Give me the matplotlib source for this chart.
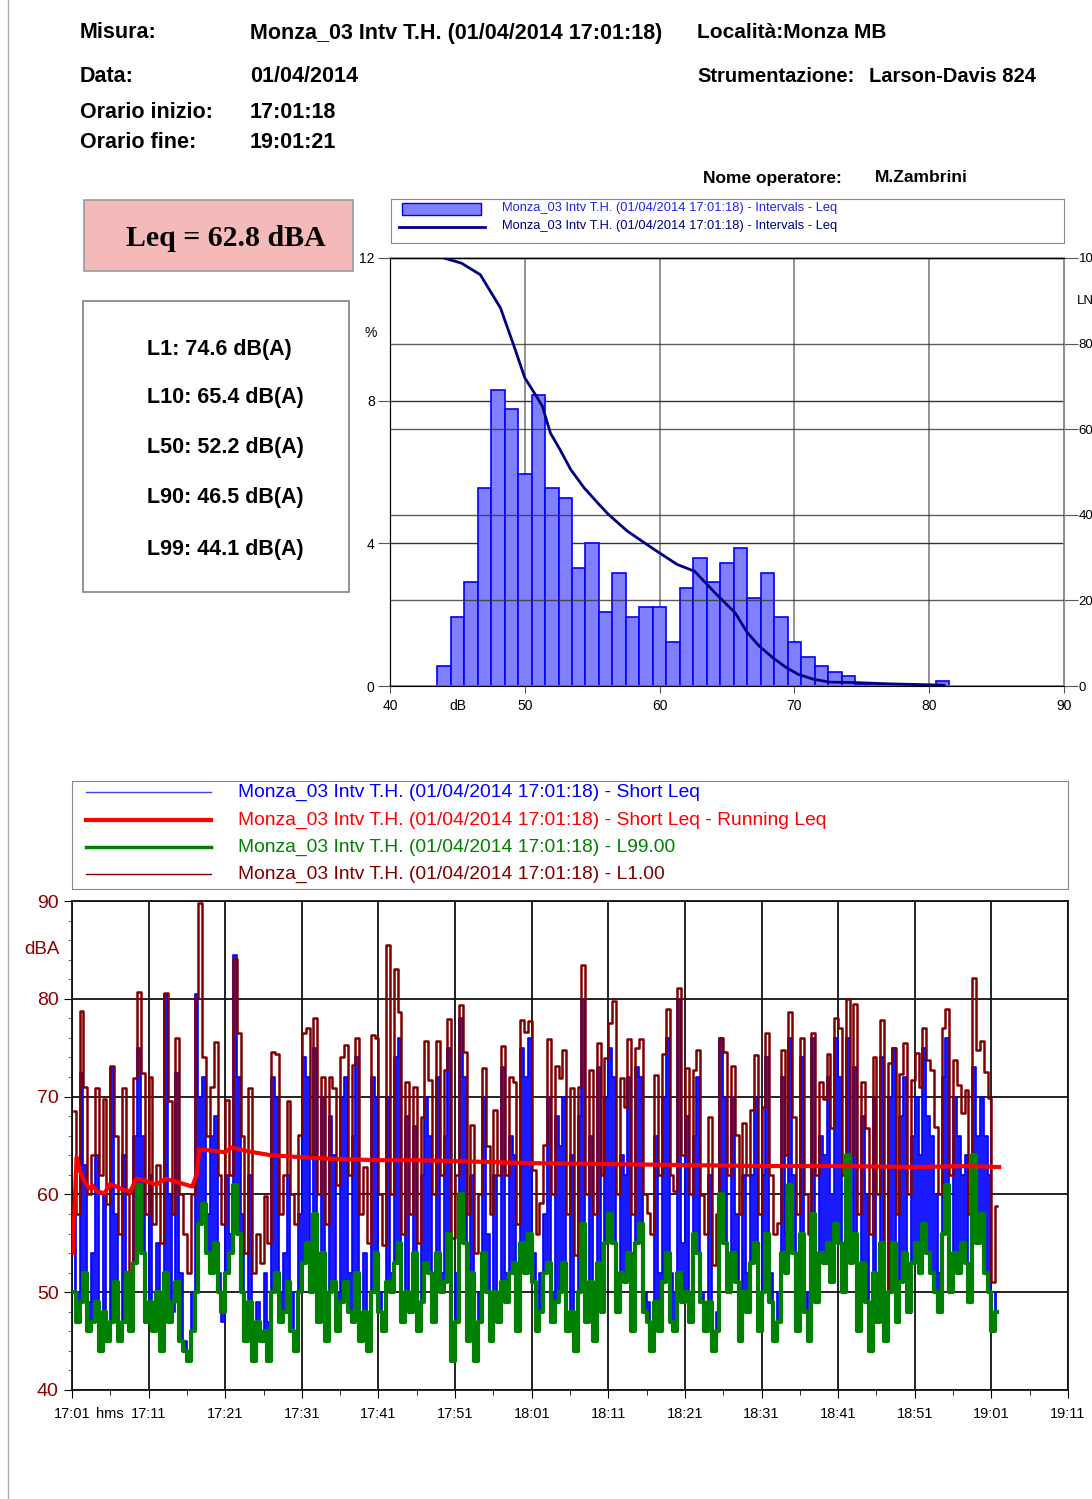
import numpy as np
import matplotlib
matplotlib.use('Agg')
import matplotlib.pyplot as plt
from matplotlib.patches import Rectangle
from matplotlib.lines import Line2D

plt.rcParams['font.family'] = ['Liberation Sans', 'DejaVu Sans']

# ---------------- report header ----------------
measure_name = 'Monza_03 Intv T.H. (01/04/2014 17:01:18)'
header_left = [('Misura:', measure_name), ('Data:', '01/04/2014'),
               ('Orario inizio:', '17:01:18'), ('Orario fine:', '19:01:21')]
leq_total = 'Leq = 62.8 dBA'
stat_lines = ['L1: 74.6 dB(A)', 'L10: 65.4 dB(A)', 'L50: 52.2 dB(A)',
              'L90: 46.5 dB(A)', 'L99: 44.1 dB(A)']

# ---------------- level distribution ----------------
hist_db = list(range(44, 82))
hist_pct = [0.56, 1.93, 2.91, 5.54, 8.30, 7.77, 5.95, 8.16, 5.54, 5.27,
            3.31, 4.01, 2.07, 3.17, 1.93, 2.21, 2.21, 1.24, 2.76, 3.59,
            2.91, 3.45, 3.87, 2.47, 3.17, 1.93, 1.24, 0.82, 0.55, 0.40,
            0.27, 0.07, 0.03, 0.0, 0.0, 0.0, 0.0, 0.13]
ln_db = [44.0, 45.3, 46.7, 48.2, 49.2, 50.0, 50.7, 51.3, 51.9, 52.6, 53.4,
         54.4, 55.4, 56.2, 57.6, 59.6, 61.3, 62.6, 64.1, 65.6, 66.5, 67.4,
         68.4, 69.4, 70.3, 71.4, 72.6, 74.5, 77.1, 81.1]
ln_pct = [100.0, 98.8, 96.1, 88.3, 79.4, 72.0, 68.5, 65.4, 59.1, 55.3, 50.6,
          46.3, 42.8, 40.1, 36.2, 31.9, 28.4, 26.8, 21.8, 17.1, 12.5, 9.3,
          6.6, 4.3, 2.7, 1.6, 0.9, 0.8, 0.5, 0.2]

# ---------------- time history (30 s samples from 17:01) ----------------
l1_vals = [
    68.5, 58, 78.8, 71.0, 60, 64, 70.9, 62, 69.8, 59,
    73.1, 66, 56, 70.9, 60, 52, 71.9, 80.7, 72.4, 58,
    72.0, 57, 63, 55, 80.6, 69.5, 58, 76.0, 60, 56.0,
    52, 60, 80.2, 89.8, 74.1, 66, 71.0, 75.6, 62, 57,
    69.7, 62, 84.1, 76.5, 66, 54, 70.9, 52, 56, 53,
    59.8, 55, 74.6, 74.4, 58, 62, 69.6, 60, 57, 66.1,
    76.5, 77.0, 64, 78.0, 60, 72.0, 57, 72.0, 70.9, 61,
    74.0, 75.3, 62, 73.2, 76.0, 58, 62.8, 55, 76.3, 76.0,
    60, 54.8, 85.5, 60, 83.0, 78.7, 56, 71.5, 58, 71.0,
    55, 67.9, 75.7, 71.7, 60, 75.7, 62, 72.7, 77.9, 55.5,
    62.0, 79.4, 74.6, 58, 67.1, 54, 60, 72.9, 65, 58,
    68.6, 62, 75.2, 62.0, 72.0, 71.5, 57, 77.8, 76.6, 77.7,
    62.5, 56, 59.1, 65.1, 75.9, 60, 73.1, 71.9, 74.8, 58,
    70.9, 53.8, 71.0, 83.5, 60, 72.7, 58, 75.5, 62, 73.9,
    77.5, 79.8, 60, 71.9, 68.9, 75.9, 58, 75.0, 75.9, 60,
    58.1, 56, 72.2, 62, 74.4, 79.0, 62, 60.3, 81.1, 64,
    72.9, 60, 72.7, 74.8, 59.9, 56, 67.9, 52.8, 58, 76.0,
    74.6, 62, 73.1, 66.1, 58, 67.3, 62, 68.6, 74.3, 58,
    68.9, 76.5, 62, 56, 57.1, 74.8, 64, 78.7, 67.9, 58,
    76.0, 60, 56, 76.5, 62, 71.5, 69.8, 74.4, 66.8, 78.0,
    77.0, 62, 80.0, 64, 79.5, 58, 71.5, 66.8, 56, 74.0,
    60, 77.8, 47.7, 73.4, 75.0, 58, 72.3, 75.5, 60, 71.7,
    74.5, 71.0, 77.0, 73.7, 72.7, 66.9, 60, 77.0, 79.0, 62,
    73.7, 71.2, 68.3, 70.7, 58, 82.1, 74.8, 75.7, 72.5, 69.9,
    51.0, 58.8]
short_leq = [
    60, 50, 72.4, 63, 49, 54, 64, 44, 60, 47,
    73, 58, 47, 64, 52, 46, 66, 75, 66, 49,
    62, 47, 55, 45, 80.5, 60, 48, 72.4, 52, 45,
    44, 50, 80.5, 70, 72, 58, 66, 68, 52, 47,
    62, 56, 84.5, 72, 58, 47, 62, 45, 49, 46,
    52, 47, 72, 70, 50, 54, 62, 50, 46, 58,
    74, 72, 55, 75, 48, 70, 46, 68, 64, 50,
    70, 72, 52, 66, 74, 46, 54, 45, 72, 70,
    50, 47, 70, 52, 74, 76, 48, 68, 50, 67,
    47, 62, 70, 66, 49, 72, 52, 66, 75, 46,
    52, 78, 72, 47, 62, 45, 50, 70, 56, 46,
    62, 50, 73, 52, 66, 64, 46, 75, 72, 76,
    54, 47, 52, 58, 70, 50, 68, 65, 70, 48,
    64, 45, 68, 80, 50, 66, 47, 73, 52, 70,
    75, 72, 50, 64, 62, 72, 47, 73, 72, 50,
    49, 45, 66, 52, 70, 76, 52, 50, 80, 55,
    68, 50, 66, 72, 50, 46, 62, 44, 48, 76,
    70, 52, 70, 58, 47, 62, 52, 62, 70, 48,
    62, 74, 52, 46, 50, 72, 56, 76, 62, 47,
    74, 50, 46, 76, 52, 66, 64, 72, 60, 76,
    72, 54, 76, 54, 73, 48, 68, 60, 46, 70,
    50, 74, 46, 70, 75, 50, 68, 72, 50, 66,
    70, 64, 75, 68, 66, 60, 52, 72, 76, 54,
    70, 66, 62, 64, 50, 73, 66, 70, 66, 62,
    48, 50]
l99_vals = [
    50, 47, 49, 52, 46, 47, 49, 44, 48, 45,
    47, 51, 45, 47, 52, 46, 53, 61, 54, 47,
    49, 46, 50, 44, 52, 47, 49, 51, 45, 44,
    43, 46, 50, 57, 59, 54, 52, 55, 50, 48,
    52, 54, 61, 56, 50, 45, 49, 43, 47, 45,
    46, 43, 50, 52, 47, 48, 51, 46, 44, 50,
    53, 55, 50, 58, 47, 54, 45, 50, 51, 46,
    49, 51, 48, 47, 52, 45, 48, 44, 50, 54,
    48, 46, 51, 50, 53, 55, 47, 50, 48, 54,
    46, 49, 53, 52, 47, 54, 50, 51, 56, 43,
    47, 60, 55, 45, 52, 43, 47, 54, 50, 45,
    50, 47, 51, 49, 52, 53, 46, 55, 52, 56,
    51, 46, 48, 52, 53, 47, 49, 50, 53, 46,
    48, 44, 50, 57, 47, 51, 45, 53, 48, 55,
    58, 55, 48, 52, 51, 54, 46, 55, 57, 48,
    47, 44, 49, 46, 51, 54, 47, 46, 52, 49,
    50, 47, 56, 54, 49, 46, 49, 44, 46, 60,
    55, 50, 54, 51, 45, 50, 48, 53, 55, 46,
    50, 56, 49, 45, 47, 54, 52, 61, 54, 46,
    56, 48, 45, 58, 49, 54, 53, 55, 51, 57,
    55, 50, 64, 53, 56, 46, 53, 49, 44, 52,
    47, 55, 45, 50, 55, 47, 51, 54, 48, 53,
    55, 52, 57, 54, 52, 50, 48, 56, 61, 50,
    54, 52, 55, 53, 49, 64, 55, 58, 52, 50,
    46, 48]
# running Leq read at irregular times (minutes after 17:01)
run_t = [0.1, 0.3, 0.6, 1.0, 1.5, 2.2, 2.7, 3.3, 4.3, 4.8, 5.5, 6.6, 7.6,
         8.4, 9.5, 11.0, 12.2, 14.0, 15.7, 16.3, 16.6, 18.0, 20.0, 20.8,
         23.0, 26.0, 30.0, 35.0, 40.0, 45.0, 50.0, 55.0, 60.0, 70.0, 80.0,
         90.0, 100.0, 110.0, 117.0, 121.0]
run_leq = [54.0, 58.0, 63.8, 62.5, 61.5, 60.6, 60.9, 60.3, 60.1, 61.0, 60.9,
           60.5, 60.3, 61.6, 61.4, 61.0, 61.6, 61.2, 60.8, 62.1, 64.6, 64.5,
           64.3, 64.8, 64.4, 64.0, 63.8, 63.6, 63.5, 63.5, 63.4, 63.3, 63.2,
           63.1, 63.0, 62.9, 62.9, 62.8, 62.9, 62.8]
time_labels = ['17:01', '17:11', '17:21', '17:31', '17:41', '17:51', '18:01',
               '18:11', '18:21', '18:31', '18:41', '18:51', '19:01', '19:11']

W, H = 1092, 1499


def fx(x):
    return x / W


def fy(y):
    return 1 - y / H


def page_text(fig, x, y, s, **kw):
    fig.text(fx(x), fy(y), s, va='center', **kw)


def draw_header(fig):
    rows_y = [33, 77, 112, 143]
    for (lab, val), y in zip(header_left, rows_y):
        page_text(fig, 80, y, lab, fontsize=15.5, fontweight='bold')
        page_text(fig, 250, y, val, fontsize=15.5, fontweight='bold')
    page_text(fig, 697, 33, 'Località:Monza MB', fontsize=15, fontweight='bold')
    page_text(fig, 697, 77, 'Strumentazione:', fontsize=14.5, fontweight='bold')
    page_text(fig, 869, 77, 'Larson-Davis 824', fontsize=14.5, fontweight='bold')
    page_text(fig, 703, 178, 'Nome operatore:', fontsize=12.5, fontweight='bold')
    page_text(fig, 875, 178, 'M.Zambrini', fontsize=12.5, fontweight='bold')

    # Leq box
    fig.add_artist(Rectangle((fx(84), fy(271)), (353 - 84) / W, (271 - 200) / H,
                             facecolor='#f4b9b9', edgecolor='#999999', lw=1.2))
    fig.text(fx(226), fy(239), leq_total, ha='center', va='center',
             fontsize=21.5, fontweight='bold', family='Liberation Serif')

    # statistics box
    fig.add_artist(Rectangle((fx(83), fy(592)), (349 - 83) / W, (592 - 301) / H,
                             facecolor='white', edgecolor='#808080', lw=1.2))
    for s, y in zip(stat_lines, [350, 397, 447, 497, 549]):
        page_text(fig, 147, y, s, fontsize=15.5, fontweight='bold')

    # page border
    fig.add_artist(Line2D([fx(8), fx(8)], [0, 1], color='#aaaaaa', lw=1))


def draw_histogram(fig):
    # legend box
    lg = fig.add_axes([fx(391), fy(243), (1064 - 391) / W, (243 - 199) / H])
    lg.set_xlim(391, 1064)
    lg.set_ylim(243, 199)
    lg.set_xticks([])
    lg.set_yticks([])
    for sp in lg.spines.values():
        sp.set_color('#888888')
    lg.add_patch(Rectangle((402, 203), 79, 12, facecolor='#8080ff',
                           edgecolor='#0000ff', lw=1))
    lg.plot([399, 485], [227, 227], color='#000080', lw=2)
    lg.text(502, 208, measure_name + ' - Intervals - Leq', color='#2222ee',
            fontsize=9.3, va='center')
    lg.text(502, 226, measure_name + ' - Intervals - Leq', color='#000080',
            fontsize=9.3, va='center')

    ax = fig.add_axes([fx(390), fy(686), (1064 - 390) / W, (686 - 258) / H])
    ax.bar(hist_db, hist_pct, width=1.0, color='#8080ff', edgecolor='#0000ff',
           lw=1.2, zorder=2)
    ax.set_xlim(40, 90)
    ax.set_ylim(0, 12)
    ax.set_xticks([40, 50, 60, 70, 80, 90])
    ax.set_yticks([0, 4, 8, 12])
    ax.grid(axis='x', color='#808080', lw=1.2, zorder=0)
    ax.grid(axis='y', color='#333333', lw=1, zorder=0)
    ax.set_axisbelow(True)
    ax.tick_params(axis='both', labelsize=10, direction='out', color='#555555')
    ax.tick_params(axis='y', length=9, pad=2)
    ax.tick_params(axis='x', length=5, pad=4)
    ax.spines['left'].set_color('#333333')
    for s in ['top', 'right', 'bottom']:
        ax.spines[s].set_color('#909090')
        ax.spines[s].set_linewidth(1.2)
    ax.text(45, -0.55, 'dB', fontsize=10, ha='center', va='center')
    ax.text(38.6, 9.9, '%', fontsize=10, ha='center', va='center')

    ax2 = ax.twinx()
    ax2.plot(ln_db, ln_pct, color='#000080', lw=2, zorder=3)
    ax2.set_ylim(0, 100)
    ax2.set_yticks([0, 20, 40, 60, 80, 100])
    ax2.grid(axis='y', color='#333333', lw=1, alpha=0.8)
    ax2.tick_params(axis='y', labelsize=9.5, length=10, pad=0.5, color='#555555')
    ax2.spines['right'].set_color('#909090')
    ax2.text(90.95, 90, 'LN', fontsize=9.5, va='center')


def draw_time_history(fig):
    lg = fig.add_axes([fx(72), fy(889), (1068 - 72) / W, (889 - 781) / H])
    lg.set_xlim(72, 1068)
    lg.set_ylim(889, 781)
    lg.set_xticks([])
    lg.set_yticks([])
    for sp in lg.spines.values():
        sp.set_color('#888888')
    entries = [
        ('Short Leq', '#4040ff', 1, '#0000ff'),
        ('Short Leq - Running Leq', '#ff0000', 3, '#ff0000'),
        ('L99.00', '#008000', 2.5, '#008000'),
        ('L1.00', '#800000', 1, '#800000'),
    ]
    for (name, lc, lw, tc), y in zip(entries, [792, 820, 847, 874]):
        lg.plot([86, 211], [y, y], color=lc, lw=lw)
        lg.text(238, y, measure_name + ' - ' + name, color=tc, fontsize=13.9,
                va='center')

    ax = fig.add_axes([fx(72), fy(1390), (1068 - 72) / W, (1390 - 901) / H])
    t = np.arange(len(l1_vals)) * 0.5 + 0.25
    ax.fill_between(t, l99_vals, short_leq, step='mid', color='#1a1aff',
                    lw=0, zorder=2)
    ax.plot(t, short_leq, color='#0000ff', lw=1.2, drawstyle='steps-mid', zorder=2)
    ax.plot(t, l1_vals, color='#800000', lw=1.8, drawstyle='steps-mid', zorder=3)
    ax.plot(t, l99_vals, color='#008000', lw=3.0, drawstyle='steps-mid', zorder=4)
    ax.plot(run_t, run_leq, color='#ff0000', lw=3, zorder=5)

    ax.set_xlim(0, 130)
    ax.set_ylim(40, 90)
    ax.set_xticks(np.arange(0, 131, 10))
    ax.set_xticklabels(time_labels)
    ax.set_xticks(np.arange(5, 130, 10), minor=True)
    ax.set_yticks(np.arange(40, 91, 10))
    ax.set_yticks(np.arange(42, 90, 2), minor=True)
    ax.grid(which='major', color='#111111', lw=1.3, zorder=1)
    ax.tick_params(axis='x', which='major', labelsize=10.5, length=6, pad=6)
    ax.tick_params(axis='x', which='minor', length=3.5)
    ax.tick_params(axis='y', which='major', labelsize=14, length=6,
                   labelcolor='#8b0000')
    ax.tick_params(axis='y', which='minor', length=3, color='#555555')
    for sp in ax.spines.values():
        sp.set_color('#111111')
        sp.set_linewidth(1.3)
    ax.text(5, -0.034, 'hms', transform=ax.get_xaxis_transform(), fontsize=10.5,
            ha='center', va='top')
    page_text(fig, 24, 950, 'dBA', fontsize=13.5, color='#8b0000')


def main():
    fig = plt.figure(figsize=(W / 100, H / 100), dpi=100)
    draw_header(fig)
    draw_histogram(fig)
    draw_time_history(fig)
    fig.savefig('out.png', dpi=100)


if __name__ == '__main__':
    main()
